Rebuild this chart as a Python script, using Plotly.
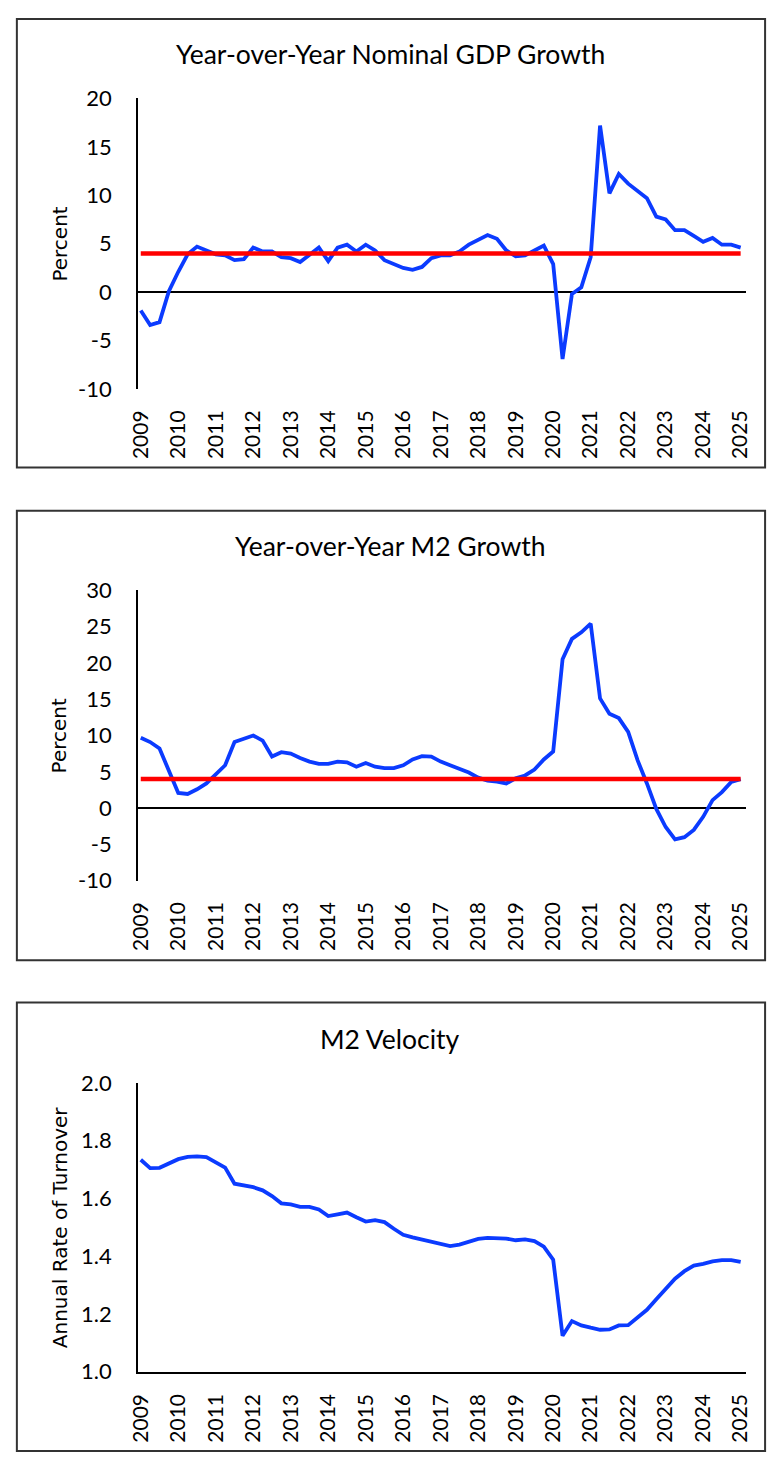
import plotly.graph_objects as go

# Quarterly observations, 2009 Q1 through 2025 Q1
years = list(range(2009, 2026))
quarters = [f"{y}-Q{q}" for y in years for q in range(1, 5)][:65]
year_labels = [str(y) for y in years]
year_ticks = [f"{y}-Q1" for y in years]

gdp_growth = [
    -1.9, -3.4, -3.1, 0.1, 2.1, 3.9, 4.7, 4.3, 3.9, 3.8, 3.3, 3.4,
    4.6, 4.2, 4.2, 3.6, 3.5, 3.1, 3.8, 4.6, 3.2, 4.6, 4.9, 4.2,
    4.9, 4.3, 3.3, 2.9, 2.5, 2.3, 2.6, 3.5, 3.8, 3.8, 4.2, 4.9,
    5.4, 5.9, 5.5, 4.3, 3.7, 3.8, 4.3, 4.8, 2.9, -6.9, -0.2, 0.5,
    3.6, 17.2, 10.2, 12.2, 11.2, 10.4, 9.7, 7.8, 7.5, 6.4, 6.4, 5.8,
    5.2, 5.6, 4.9, 4.9, 4.6,
]

m2_growth = [
    9.7, 9.1, 8.2, 5.3, 2.1, 1.95, 2.6, 3.4, 4.7, 5.9, 9.1, 9.6,
    10.0, 9.3, 7.1, 7.7, 7.5, 6.9, 6.4, 6.1, 6.1, 6.4, 6.3, 5.7,
    6.2, 5.7, 5.5, 5.5, 5.9, 6.7, 7.15, 7.1, 6.4, 5.9, 5.4, 4.9,
    4.2, 3.8, 3.65, 3.4, 4.1, 4.5, 5.3, 6.7, 7.8, 20.5, 23.3, 24.2,
    25.4, 15.1, 13.0, 12.4, 10.5, 6.6, 3.4, -0.1, -2.6, -4.3, -4.0, -3.0,
    -1.2, 1.1, 2.2, 3.6, 4.0,
]

m2_velocity = [
    1.734, 1.705, 1.706, 1.721, 1.736, 1.744, 1.746, 1.743, 1.725, 1.707,
    1.651, 1.645, 1.639, 1.628, 1.608, 1.583, 1.579, 1.571, 1.571, 1.562,
    1.539, 1.545, 1.551, 1.535, 1.520, 1.525, 1.518, 1.495, 1.474, 1.465,
    1.457, 1.448, 1.441, 1.435, 1.440, 1.450, 1.460, 1.463, 1.463, 1.461,
    1.455, 1.458, 1.452, 1.433, 1.388, 1.124, 1.175, 1.160, 1.152, 1.145,
    1.146, 1.160, 1.161, 1.186, 1.214, 1.251, 1.286, 1.322, 1.348, 1.367,
    1.373, 1.382, 1.386, 1.386, 1.380,
]

target_rate = 4.0
target_line = [target_rate] * len(quarters)

# y-axis tick values and their printed labels (plain hyphen for negatives)
gdp_ticks = [-10, -5, 0, 5, 10, 15, 20]
m2_ticks = [-10, -5, 0, 5, 10, 15, 20, 25, 30]
vel_ticks = [1.0, 1.2, 1.4, 1.6, 1.8, 2.0]
gdp_tick_text = ["-10", "-5", "0", "5", "10", "15", "20"]
m2_tick_text = ["-10", "-5", "0", "5", "10", "15", "20", "25", "30"]
vel_tick_text = ["1.0", "1.2", "1.4", "1.6", "1.8", "2.0"]

titles = ["Year-over-Year Nominal GDP Growth", "Year-over-Year M2 Growth", "M2 Velocity"]
y_titles = ["Percent", "Percent", "Annual Rate of Turnover"]

W, H = 775, 1469
FONT = "Lato"
AXIS_TITLE_FONT = "DejaVu Sans"
BLUE = "#0B3BFF"
RED = "#FF0000"


def py(px):
    return 1 - px / H


def px_x(px):
    return px / W


# pixel layout of each panel: (box top, box bottom, plot top, plot bottom, title y)
panels = [
    (5, 462, 86, 382, 41),
    (506, 964, 587, 883, 542),
    (1007, 1464, 1089, 1383, 1044),
]
plot_left, plot_right = 130, 751

fig = go.Figure()

series = [gdp_growth, m2_growth, m2_velocity]
for i, vals in enumerate(series):
    xa = "x" if i == 0 else f"x{i + 1}"
    ya = "y" if i == 0 else f"y{i + 1}"
    fig.add_trace(go.Scatter(x=quarters, y=vals, mode="lines",
                             line=dict(color=BLUE, width=3.8),
                             xaxis=xa, yaxis=ya, showlegend=False))
    if i < 2:
        fig.add_trace(go.Scatter(x=quarters, y=target_line, mode="lines",
                                 line=dict(color=RED, width=4.5),
                                 xaxis=xa, yaxis=ya, showlegend=False))

y_ranges = [[-10, 20], [-10, 30], [1.0, 2.0]]
y_tickvals = [gdp_ticks, m2_ticks, vel_ticks]
y_ticktext = [gdp_tick_text, m2_tick_text, vel_tick_text]

layout = dict(
    width=W, height=H,
    margin=dict(l=0, r=0, t=0, b=0),
    paper_bgcolor="white", plot_bgcolor="white",
    font=dict(family=FONT, color="black", size=21),
    showlegend=False,
)

shapes = []
annotations = []
for i, (bt, bb, pt, pb, ty) in enumerate(panels):
    xk = "xaxis" if i == 0 else f"xaxis{i + 1}"
    yk = "yaxis" if i == 0 else f"yaxis{i + 1}"
    ya = "y" if i == 0 else f"y{i + 1}"
    layout[xk] = dict(
        domain=[px_x(plot_left), px_x(plot_right)],
        anchor=ya,
        type="category",
        categoryorder="array", categoryarray=quarters,
        range=[-0.28, 64.52],
        tickmode="array", tickvals=year_ticks, ticktext=year_labels,
        tickangle=-90,
        tickfont=dict(family=FONT, size=21, color="black"),
        showgrid=False, zeroline=False,
        showline=(i == 2), linecolor="black", linewidth=2,
        ticks="outside", ticklen=12, tickcolor="rgba(0,0,0,0)",
    )
    layout[yk] = dict(
        domain=[py(pb), py(pt)],
        anchor="x" if i == 0 else f"x{i + 1}",
        range=y_ranges[i],
        tickmode="array", tickvals=y_tickvals[i], ticktext=y_ticktext[i],
        tickfont=dict(family=FONT, size=22, color="black"),
        showgrid=False,
        zeroline=(i < 2), zerolinecolor="black", zerolinewidth=2,
        showline=True, linecolor="black", linewidth=2,
        ticks="outside", ticklen=20, tickcolor="rgba(0,0,0,0)",
    )
    shapes.append(dict(type="rect", xref="paper", yref="paper",
                       x0=px_x(6), x1=px_x(771), y0=py(bb), y1=py(bt),
                       line=dict(color="#333333", width=2), fillcolor="rgba(0,0,0,0)"))
    annotations.append(dict(text=titles[i], xref="paper", yref="paper",
                            x=px_x(388), y=py(ty), xanchor="center", yanchor="middle",
                            showarrow=False, font=dict(family=FONT, size=26.5, color="black")))
    annotations.append(dict(text=y_titles[i], xref="paper", yref="paper",
                            x=px_x(50), y=py((pt + pb) / 2), xanchor="center", yanchor="middle",
                            textangle=-90, showarrow=False,
                            font=dict(family=AXIS_TITLE_FONT, size=20, color="black")))

layout["shapes"] = shapes
layout["annotations"] = annotations
fig.update_layout(**layout)

fig.write_html("out.html")
